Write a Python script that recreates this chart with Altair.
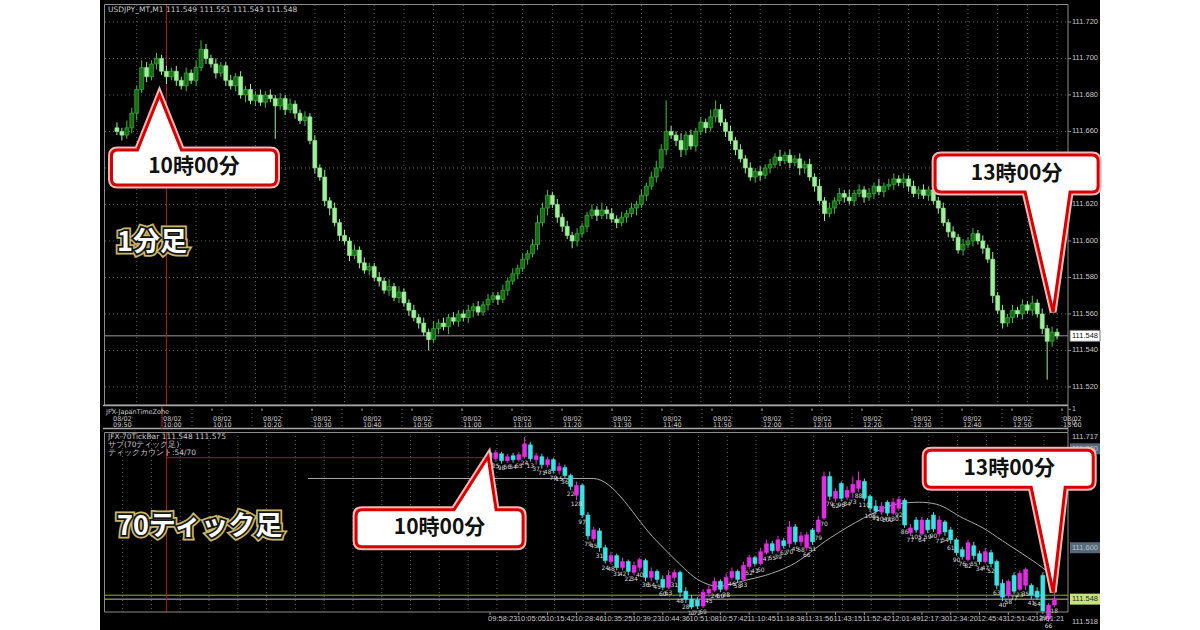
import altair as alt
import pandas as pd

BASE = 111.5  # every price list below is in thousandths above this level

# ---------------------------------------------------------------- 1-minute bars (09:50 .. 13:00)
m1_first_minute = 590
m1_first_open = 162
m1_close = [
    160, 158, 162, 170, 183, 195, 190, 197, 200, 193,
    190, 193, 188, 185, 192, 188, 195, 205, 200, 197,
    192, 196, 188, 185, 190, 180, 183, 177, 180, 176,
    180, 178, 174, 178, 172, 175, 170, 166, 168, 155,
    140, 135, 122, 118, 110, 103, 100, 92, 95, 88,
    84, 86, 80, 78, 73, 75, 69, 72, 66, 62,
    58, 55, 50, 46, 52, 55, 53, 58, 56, 60,
    58, 62, 64, 61, 65, 68, 70, 68, 73, 78,
    82, 85, 90, 93, 98, 110, 118, 125, 120, 113,
    108, 103, 100, 104, 108, 114, 117, 114, 117, 115,
    112, 110, 113, 115, 118, 120, 125, 130, 135, 140,
    150, 160, 158, 155, 150, 158, 152, 160, 165, 162,
    168, 172, 165, 160, 155, 150, 145, 140, 135, 138,
    136, 140, 142, 146, 144, 147, 143, 145, 140, 142,
    135, 130, 122, 115, 118, 122, 126, 124, 122, 126,
    128, 124, 126, 130, 127, 130, 131, 134, 132, 134,
    130, 126, 128, 125, 128, 122, 118, 110, 105, 102,
    95, 98, 100, 104, 100, 96, 90, 70, 62, 55,
    58, 62, 60, 65, 62, 66, 60, 52, 45, 50,
    48,
]
# upper / lower shadow lengths of each 1-minute bar
m1_up = [
    3, 2, 4, 3, 2, 4, 3, 2, 3, 2,
    3, 2, 3, 2, 3, 2, 4, 5, 3, 2,
    3, 2, 2, 3, 2, 3, 2, 3, 2, 3,
    2, 3, 2, 3, 2, 3, 2, 2, 3, 2,
    3, 2, 4, 2, 3, 2, 3, 2, 3, 2,
    3, 2, 2, 3, 2, 4, 2, 3, 2, 2,
    3, 2, 3, 2, 4, 2, 3, 2, 3, 2,
    2, 3, 2, 3, 2, 3, 2, 2, 3, 2,
    3, 2, 3, 2, 3, 4, 3, 3, 2, 3,
    2, 3, 2, 3, 2, 2, 3, 2, 4, 2,
    3, 2, 3, 2, 3, 2, 3, 2, 3, 4,
    3, 17, 3, 2, 4, 2, 3, 2, 3, 2,
    4, 5, 3, 2, 3, 2, 3, 2, 3, 2,
    3, 2, 3, 2, 4, 2, 3, 2, 3, 2,
    3, 2, 4, 2, 3, 2, 3, 2, 4, 2,
    3, 2, 3, 2, 4, 2, 3, 3, 2, 3,
    2, 3, 2, 3, 2, 3, 2, 3, 2, 3,
    2, 3, 2, 3, 2, 3, 2, 4, 2, 3,
    2, 3, 2, 3, 2, 4, 2, 3, 2, 3,
    2,
]
m1_dn = [
    2, 3, 2, 3, 4, 2, 3, 2, 3, 2,
    4, 2, 3, 2, 3, 2, 3, 2, 3, 2,
    3, 2, 3, 2, 3, 2, 4, 2, 3, 2,
    3, 2, 18, 2, 3, 2, 3, 2, 3, 2,
    3, 2, 3, 4, 2, 3, 2, 3, 2, 3,
    2, 3, 2, 3, 2, 3, 2, 3, 2, 3,
    2, 3, 2, 6, 2, 3, 2, 4, 2, 3,
    2, 3, 4, 2, 2, 3, 2, 3, 2, 3,
    2, 3, 2, 3, 2, 3, 2, 4, 2, 3,
    3, 2, 4, 3, 2, 3, 2, 3, 2, 3,
    2, 3, 2, 3, 2, 4, 2, 3, 2, 3,
    2, 3, 2, 3, 4, 3, 2, 3, 2, 3,
    2, 3, 2, 3, 2, 3, 2, 3, 2, 3,
    3, 2, 3, 2, 3, 2, 3, 2, 4, 3,
    2, 3, 2, 4, 2, 3, 2, 3, 2, 3,
    2, 3, 2, 3, 2, 3, 2, 3, 2, 3,
    3, 2, 3, 2, 3, 2, 3, 2, 3, 2,
    2, 3, 2, 3, 2, 3, 2, 4, 2, 3,
    2, 3, 2, 3, 2, 3, 2, 3, 21, 3,
    2,
]
price_grid = [111.52, 111.54, 111.56, 111.58, 111.60, 111.62, 111.64, 111.66, 111.68, 111.70, 111.72]
price_labels = [111.52, 111.54, 111.56, 111.58, 111.60, 111.62, 111.66, 111.68, 111.70, 111.72]
grid_minutes = list(range(594, 781, 6))
tz_minutes = list(range(590, 781, 10))

# ---------------------------------------------------------------- 70-tick bars
tick_open = [
    196, 190, 195, 188, 193, 189, 192, 204, 189, 192,
    184, 189, 178, 181, 173, 153, 163, 133, 109, 117,
    100, 86, 92, 80, 86, 75, 80, 87, 70, 76,
    68, 60, 70, 75, 56, 48, 47, 41, 54, 57,
    66, 58, 70, 76, 68, 81, 90, 84, 95, 104,
    97, 107, 104, 121, 106, 100, 118, 116, 130, 172,
    150, 165, 151, 156, 160, 167, 152, 142, 136, 146,
    135, 140, 148, 115, 128, 114, 128, 133, 114, 126,
    118, 108, 98, 88, 102, 94, 86, 95, 86, 64,
    52, 72, 58, 62, 62, 56, 72, 28, 42,
]
tick_close = [
    191, 196, 188, 192, 189, 194, 205, 190, 193, 184,
    189, 178, 182, 173, 162, 163, 133, 112, 118, 100,
    87, 92, 80, 86, 76, 82, 88, 70, 76, 68,
    60, 72, 75, 55, 48, 40, 41, 55, 58, 66,
    58, 70, 76, 68, 82, 90, 84, 96, 104, 97,
    108, 102, 121, 106, 112, 113, 106, 128, 172, 152,
    157, 150, 158, 164, 168, 150, 140, 137, 142, 135,
    146, 149, 123, 120, 118, 128, 118, 119, 128, 116,
    108, 95, 91, 105, 92, 86, 96, 84, 62, 50,
    66, 56, 74, 78, 52, 50, 36, 42, 48,
]
tick_high = [
    198, 199, 197, 195, 196, 197, 212, 207, 196, 195,
    192, 191, 186, 184, 175, 167, 165, 136, 121, 120,
    103, 96, 94, 90, 88, 86, 90, 89, 80, 78,
    72, 77, 78, 77, 60, 52, 50, 58, 62, 70,
    68, 74, 80, 78, 86, 93, 92, 100, 108, 107,
    112, 110, 127, 124, 116, 116, 120, 132, 177, 177,
    160, 167, 162, 172, 177, 170, 154, 148, 146, 148,
    150, 152, 150, 124, 131, 131, 130, 136, 132, 128,
    121, 110, 101, 108, 106, 97, 100, 98, 88, 68,
    68, 75, 77, 80, 64, 60, 75, 44, 54,
]
tick_low = [
    188, 187, 185, 186, 186, 187, 190, 187, 184, 180,
    181, 175, 174, 170, 158, 148, 130, 108, 106, 96,
    84, 83, 77, 77, 72, 72, 76, 66, 66, 64,
    57, 58, 66, 50, 44, 38, 38, 39, 50, 55,
    55, 56, 67, 65, 66, 78, 81, 82, 93, 94,
    95, 99, 100, 103, 102, 97, 103, 114, 128, 148,
    146, 147, 148, 150, 156, 147, 136, 134, 133, 132,
    133, 137, 120, 112, 115, 112, 115, 116, 111, 112,
    104, 92, 88, 86, 88, 83, 84, 80, 58, 46,
    49, 53, 56, 57, 48, 47, 33, 25, 40,
]
# seconds each 70-tick bar took to complete
tick_secs = [
    70, 25, 98, 56, 54, 65, 24, 13, 37, 71, 48, 79,
    15, 36, 22, 128, 97, 79, 45, 31, 24, 48, 31, 42,
    22, 34, 40, 36, 54, 45, 60, 63, 31, 48, 28, 12,
    72, 69, 45, 24, 50, 38, 46, 58, 33, 52, 41, 60,
    47, 55, 39, 62, 70, 45, 58, 66, 51, 79, 70, 79,
    62, 96, 84, 73, 88, 110, 108, 95, 104, 100, 130, 92,
    86, 77, 105, 64, 59, 90, 71, 54, 61, 90, 76, 82,
    55, 34, 47, 52, 63, 40, 58, 77, 23, 35, 41, 54,
    29, 66, 18,
]
tick_time_labels = [
    "09:58:23", "10:05:05", "10:15:42", "10:28:46", "10:35:25",
    "10:39:23", "10:44:36", "10:51:08", "10:57:42", "11:10:45",
    "11:18:38", "11:31:56", "11:43:15", "11:52:42", "12:01:49",
    "12:17:30", "12:34:20", "12:45:43", "12:51:42", "13:01:21",
]
tick_label_index = [0, 5, 10, 15, 20, 25, 30, 35, 40, 45, 50, 55, 60, 65, 70, 75, 80, 85, 90, 95]
tick_grid_index = [5 * k + 1.2 for k in range(-13, 20)]
# moving average drawn over the tick bars (bar index, level)
ma_index = [-31.6, 17.9, 28.9, 32.3, 36.3, 39.7, 44.3, 47.8, 52.2, 59.1,
            64.9, 70.6, 74.6, 77.5, 82.1, 85.6, 89.0, 92.4, 95.9, 97.8]
ma_value = [170, 170, 107, 87, 67, 61, 67, 72, 82, 110,
            130, 144, 146, 144, 130, 120, 107, 94, 80, 71]

# ---------------------------------------------------------------- styling
UI_FONT = "DejaVu Sans"
SCALE_FONT = "Liberation Sans"
JP_FONT = "Noto Sans CJK JP"
AXIS_TXT = "#c8c8c8"
FRAME = "#8c8c8c"
GRID = "#5e5e5e"
RED_LINE = "#b01818"
W, TOP_H, TZ_H, BOT_H = 963, 400, 27, 180


def p(v):
    return round(BASE + v / 1000.0, 4)


one = pd.DataFrame({"k": [0]})


def fixed_text(text, x, y, **kw):
    return alt.Chart(one).mark_text(text=text, **kw).encode(x=alt.value(x), y=alt.value(y))


head_txt = dict(font=UI_FONT, fontSize=7.5, color=AXIS_TXT)
scale_txt = dict(font=SCALE_FONT, fontSize=7.5, color=AXIS_TXT)

# ---------------------------------------------------------------- 1-minute panel
m1_open = [m1_first_open] + m1_close[:-1]
m1 = pd.DataFrame({
    "minute": [m1_first_minute + k for k in range(len(m1_close))],
    "open": [p(v) for v in m1_open],
    "close": [p(v) for v in m1_close],
    "high": [p(max(o, c) + u) for o, c, u in zip(m1_open, m1_close, m1_up)],
    "low": [p(min(o, c) - d) for o, c, d in zip(m1_open, m1_close, m1_dn)],
})
m1_bull = [c >= o for o, c in zip(m1_open, m1_close)]
m1["fill"] = ["#196b19" if b else "#9ef09a" for b in m1_bull]
m1["edge"] = ["#3cc43c" if b else "#9ef09a" for b in m1_bull]

xs_top = alt.Scale(domain=[588.6, 781.2], nice=False, zero=False)
ys_top = alt.Scale(domain=[111.5101, 111.7293], nice=False, zero=False)


def xt(field):
    return alt.X(f"{field}:Q", scale=xs_top, axis=None)


def yt(field):
    return alt.Y(f"{field}:Q", scale=ys_top, axis=None)


# white page margins either side of the terminal window
margins = alt.Chart(pd.DataFrame({"a": [-105, 995], "b": [-5, 1095]})).mark_rect(
    color="white").encode(x=alt.X("a:Q", scale=None, axis=None), x2="b",
                          y=alt.value(-5), y2=alt.value(625))

top_grid_v = alt.Chart(pd.DataFrame({"minute": grid_minutes})).mark_rule(
    color=GRID, strokeDash=[1, 3], strokeWidth=1
).encode(x=xt("minute"), y=alt.value(0), y2=alt.value(TOP_H))
top_grid_h = alt.Chart(pd.DataFrame({"price": price_grid})).mark_rule(
    color=GRID, strokeDash=[1, 3], strokeWidth=1
).encode(y=yt("price"), x=alt.value(0), x2=alt.value(W))

top_bid = alt.Chart(pd.DataFrame({"price": [111.548]})).mark_rule(
    color="#9a9a9a", strokeWidth=1
).encode(y=yt("price"), x=alt.value(0), x2=alt.value(W))

top_red = alt.Chart(pd.DataFrame({"minute": [600]})).mark_rule(
    color=RED_LINE, strokeWidth=1
).encode(x=xt("minute"), y=alt.value(0), y2=alt.value(TOP_H))

top_wicks = alt.Chart(m1).mark_rule(strokeWidth=1).encode(
    x=xt("minute"), y=yt("low"), y2=alt.Y2("high"),
    color=alt.Color("edge:N", scale=None),
)
top_bodies = alt.Chart(m1).mark_bar(size=4, strokeWidth=0.6).encode(
    x=xt("minute"), y=yt("open"), y2=alt.Y2("close"),
    fill=alt.Fill("fill:N", scale=None), stroke=alt.Stroke("edge:N", scale=None),
)

top_frame = alt.Chart(one).mark_rect(fillOpacity=0, stroke=FRAME, strokeWidth=1).encode(
    x=alt.value(-0.5), x2=alt.value(W), y=alt.value(-0.5), y2=alt.value(TOP_H))
top_header = fixed_text("USDJPY_MT,M1  111.549 111.551 111.543 111.548", 3, 5,
                        align="left", baseline="middle", **head_txt)

# price scale on the right edge of the 1-minute window
top_scale_df = pd.DataFrame({"price": price_labels, "txt": [f"{v:.3f}" for v in price_labels]})
top_scale_ticks = alt.Chart(top_scale_df).mark_rule(color=FRAME).encode(
    y=yt("price"), x=alt.value(W), x2=alt.value(W + 3))
top_scale_txt = alt.Chart(top_scale_df).mark_text(align="left", baseline="middle",
                                                  **scale_txt).encode(
    y=yt("price"), x=alt.value(W + 4), text="txt:N")

price_box = "M-15,-5.5L15,-5.5L15,5.5L-15,5.5Z"
top_last = alt.Chart(pd.DataFrame({"price": [111.548]}))
top_last_box = top_last.mark_point(shape=price_box, size=4, filled=True, fill="white",
                                   stroke="#777777", strokeWidth=1, opacity=1).encode(
    y=yt("price"), x=alt.value(W + 17))
top_last_txt = top_last.mark_text(text="111.548", font=SCALE_FONT, fontSize=7.5,
                                  color="#111111").encode(y=yt("price"), x=alt.value(W + 17))


def callout(df, xenc, yenc, path, text, dx, dy):
    base = alt.Chart(df).encode(x=xenc, y=yenc)
    glow = base.mark_point(shape=path, size=4, filled=True, fill="white",
                           stroke="#f4b6b6", strokeWidth=7, opacity=1)
    box = base.mark_point(shape=path, size=4, filled=True, fill="white",
                          stroke="#d60000", strokeWidth=3, opacity=1)
    label = base.mark_text(text=text, dx=dx, dy=dy, font=JP_FONT, fontSize=21,
                           fontWeight="bold", color="#111111", align="center",
                           baseline="middle")
    return [glow, box, label]


def big_label(text, x, y, size):
    kw = dict(font=JP_FONT, fontSize=size, fontWeight="bold", align="left", baseline="middle")
    return [
        fixed_text(text, x, y, color="#c9b66a", stroke="#c9b66a", strokeWidth=7, **kw),
        fixed_text(text, x, y, color="#141414", stroke="#141414", strokeWidth=3.5, **kw),
        fixed_text(text, x, y, color="white", **kw),
    ]


# pointer shapes (1 unit = 1 px, origin at the pointer tip)
up_tip_left = ("M0,0L22,55L111,55Q117,55 117,61L117,84Q117,90 111,90L-42,90Q-48,90 -48,84"
               "L-48,61Q-48,55 -42,55L-22,55Z")
down_tip_right = ("M0,0L17,-120L39,-120Q45,-120 45,-126L45,-151Q45,-157 39,-157L-112,-157"
                  "Q-118,-157 -118,-151L-118,-126Q-118,-120 -112,-120L-28,-120Z")
up_tip_bot = ("M0,0L8,53L29,53Q35,53 35,59L35,84Q35,90 29,90L-126,90Q-132,90 -132,84"
              "L-132,59Q-132,53 -126,53L-34,53Z")
down_tip_bot = ("M0,0L12,-105L34,-105Q40,-105 40,-111L40,-136Q40,-142 34,-142L-122,-142"
                "Q-128,-142 -128,-136L-128,-111Q-128,-105 -122,-105L-22,-105Z")

call_top_a = callout(pd.DataFrame({"minute": [598.6], "price": [111.680]}),
                     xt("minute"), yt("price"), up_tip_left, "10時00分", 34.5, 72.5)
call_top_b = callout(pd.DataFrame({"minute": [779.2], "price": [111.561]}),
                     xt("minute"), yt("price"), down_tip_right, "13時00分", -36.5, -138.5)

top = alt.layer(
    margins, top_grid_v, top_grid_h, top_bid, top_red, top_wicks, top_bodies, top_frame,
    top_header, top_scale_ticks, top_scale_txt, top_last_box, top_last_txt,
    *call_top_a, *call_top_b, *big_label("1分足", 12, 238, 27),
).properties(width=W, height=TOP_H)

# ---------------------------------------------------------------- time-zone strip
tz = pd.DataFrame({
    "minute": tz_minutes,
    "label": [f"08/02\n{m // 60:02d}:{m % 60:02d}" for m in tz_minutes],
})
tz_grid = alt.Chart(pd.DataFrame({"minute": grid_minutes})).mark_rule(
    color=GRID, strokeDash=[1, 3], strokeWidth=1
).encode(x=xt("minute"), y=alt.value(0), y2=alt.value(24))
tz_top_line = alt.Chart(one).mark_rule(color="#a8a8a8", strokeWidth=1.5).encode(
    x=alt.value(-2), x2=alt.value(W), y=alt.value(0.5))
tz_bot_line = alt.Chart(one).mark_rule(color="#a8a8a8", strokeWidth=1.5).encode(
    x=alt.value(-2), x2=alt.value(W), y=alt.value(23.5))
tz_right_line = alt.Chart(one).mark_rule(color=FRAME, strokeWidth=1).encode(
    x=alt.value(W), y=alt.value(0), y2=alt.value(TZ_H))
tz_ticks = alt.Chart(tz).mark_rule(color="#a8a8a8", strokeWidth=1).encode(
    x=xt("minute"), y=alt.value(3.5), y2=alt.value(6))
tz_labels = alt.Chart(tz).mark_text(
    align="left", baseline="top", dx=1, font=UI_FONT, fontSize=6.5, lineHeight=6.5,
    lineBreak="\n", color=AXIS_TXT
).encode(x=xt("minute"), y=alt.value(10.5), text="label:N")
tz_name = fixed_text("JFX-JapanTimeZone", 1, 7, align="left", baseline="middle",
                     font=UI_FONT, fontSize=6.5, color=AXIS_TXT)
tz_red = alt.Chart(pd.DataFrame({"minute": [600]})).mark_rule(color=RED_LINE).encode(
    x=xt("minute"), y=alt.value(1), y2=alt.value(24))
tz_level_df = pd.DataFrame({"lvl": [1, 0], "txt": ["1", "0"]})
tz_level_scale = alt.Scale(domain=[-0.6, 1.3], nice=False, zero=False)
tz_level_ticks = alt.Chart(tz_level_df).mark_rule(color=FRAME).encode(
    y=alt.Y("lvl:Q", scale=tz_level_scale, axis=None), x=alt.value(W), x2=alt.value(W + 3))
tz_level_txt = alt.Chart(tz_level_df).mark_text(align="left", baseline="middle",
                                                font=SCALE_FONT, fontSize=7,
                                                color=AXIS_TXT).encode(
    y=alt.Y("lvl:Q", scale=tz_level_scale, axis=None), x=alt.value(W + 4), text="txt:N")

strip = alt.layer(tz_grid, tz_top_line, tz_bot_line, tz_right_line, tz_red, tz_ticks,
                  tz_labels, tz_name, tz_level_ticks, tz_level_txt).properties(width=W, height=TZ_H)

# ---------------------------------------------------------------- 70-tick panel
ticks = pd.DataFrame({
    "i": list(range(len(tick_close))),
    "open": [p(v) for v in tick_open],
    "close": [p(v) for v in tick_close],
    "high": [p(v) for v in tick_high],
    "low": [p(v) for v in tick_low],
    "secs": [str(s) for s in tick_secs],
})
ticks["col"] = ["#e22ee2" if c >= o else "#3fe2e2" for o, c in zip(tick_open, tick_close)]

xs_bot = alt.Scale(domain=[-66, 99.5], nice=False, zero=False)
ys_bot = alt.Scale(domain=[111.535, 111.717], nice=False, zero=False)


def xb(field):
    return alt.X(f"{field}:Q", scale=xs_bot, axis=None)


def yb(field):
    return alt.Y(f"{field}:Q", scale=ys_bot, axis=None)


bot_grid_v = alt.Chart(pd.DataFrame({"i": tick_grid_index})).mark_rule(
    color=GRID, strokeDash=[1, 3], strokeWidth=1
).encode(x=xb("i"), y=alt.value(0), y2=alt.value(BOT_H))

bot_wicks = alt.Chart(ticks).mark_rule(strokeWidth=1).encode(
    x=xb("i"), y=yb("low"), y2=alt.Y2("high"), color=alt.Color("col:N", scale=None))
bot_bodies = alt.Chart(ticks).mark_bar(size=4, strokeWidth=0.6).encode(
    x=xb("i"), y=yb("open"), y2=alt.Y2("close"),
    fill=alt.Fill("col:N", scale=None), stroke=alt.Stroke("col:N", scale=None))
bot_secs = alt.Chart(ticks).mark_text(
    baseline="top", dy=1, font=UI_FONT, fontSize=6, color="#d8d8d8"
).encode(x=xb("i"), y=yb("low"), text="secs:N")

bot_ma = alt.Chart(pd.DataFrame({"i": ma_index, "price": [p(v) for v in ma_value]})).mark_line(
    color="#a9a9a9", strokeWidth=1, interpolate="monotone"
).encode(x=xb("i"), y=yb("price"))

bot_red_v = alt.Chart(pd.DataFrame({"i": [-56.2]})).mark_rule(color=RED_LINE).encode(
    x=xb("i"), y=alt.value(0), y2=alt.value(BOT_H))
bot_red_h = alt.Chart(pd.DataFrame({"i": [-56.2], "i2": [-0.3], "price": [111.691]})).mark_rule(
    color=RED_LINE).encode(x=xb("i"), x2=alt.X2("i2"), y=yb("price"))
bot_levels = alt.Chart(pd.DataFrame({"price": [111.552, 111.548],
                                     "col": ["#8fb82a", "#bdbdbd"]})).mark_rule(strokeWidth=1).encode(
    y=yb("price"), x=alt.value(0), x2=alt.value(W), color=alt.Color("col:N", scale=None))

bot_frame = alt.Chart(one).mark_rect(fillOpacity=0, stroke=FRAME, strokeWidth=1).encode(
    x=alt.value(-0.5), x2=alt.value(W), y=alt.value(0.5), y2=alt.value(BOT_H))
hdr = dict(align="left", baseline="middle", **head_txt)
bot_header = [
    fixed_text("JFX-70TickBar 111.548 111.575", 3, 5, **hdr),
    fixed_text("サブ(70ティック足)", 3, 13, **hdr),
    fixed_text("ティックカウント:54/70", 3, 21, **hdr),
]

# time scale under the tick window
time_df = pd.DataFrame({"i": tick_label_index, "txt": tick_time_labels})
bot_time_ticks = alt.Chart(time_df).mark_rule(color=FRAME).encode(
    x=xb("i"), y=alt.value(BOT_H), y2=alt.value(BOT_H + 3))
bot_time_txt = alt.Chart(time_df).mark_text(
    align="left", baseline="top", dx=-2, font=SCALE_FONT, fontSize=7.5, color=AXIS_TXT
).encode(x=xb("i"), y=alt.value(BOT_H + 3), text="txt:N")

# price scale at the right edge of the tick window
bot_top_label = alt.Chart(pd.DataFrame({"price": [111.717], "txt": ["111.717"]})).mark_text(
    align="left", baseline="top", dy=1, **scale_txt).encode(
    y=yb("price"), x=alt.value(W + 4), text="txt:N")
bot_low_label = fixed_text("111.518", W + 4, 190, align="left", baseline="middle", **scale_txt)

marks = pd.DataFrame({
    "price": [111.700, 111.600, 111.548],
    "txt": ["111.700", "111.600", "111.548"],
    "bg": ["#56687a", "#56687a", "#c6e27a"],
    "fg": ["#b9c3cc", "#b9c3cc", "#2a2a2a"],
})
bot_mark_box = alt.Chart(marks).mark_point(shape=price_box, size=4, filled=True, opacity=1,
                                           strokeWidth=0).encode(
    y=yb("price"), x=alt.value(W + 17), fill=alt.Fill("bg:N", scale=None))
bot_mark_txt = alt.Chart(marks).mark_text(font=SCALE_FONT, fontSize=7.5).encode(
    y=yb("price"), x=alt.value(W + 17), text="txt:N", color=alt.Color("fg:N", scale=None))

call_bot_a = callout(pd.DataFrame({"i": [-0.34], "price": [111.692]}),
                     xb("i"), yb("price"), up_tip_bot, "10時00分", -48.5, 71.5)
call_bot_b = callout(pd.DataFrame({"i": [97.8], "price": [111.555]}),
                     xb("i"), yb("price"), down_tip_bot, "13時00分", -44, -123.5)

bottom = alt.layer(
    bot_grid_v, bot_levels, bot_red_v, bot_red_h, bot_ma, bot_wicks, bot_bodies, bot_secs,
    bot_frame, *bot_header, bot_time_ticks, bot_time_txt, bot_top_label, bot_low_label,
    bot_mark_box, bot_mark_txt, *call_bot_a, *call_bot_b,
    *big_label("70ティック足", 12, 95, 27),
).properties(width=W, height=BOT_H)

chart = alt.vconcat(top, strip, bottom, spacing=0, bounds="flush").properties(
    background="black", padding=0,
).configure_view(fill="black", strokeWidth=0)

chart.save("out.html", embed_options={"renderer": "svg", "actions": False})
